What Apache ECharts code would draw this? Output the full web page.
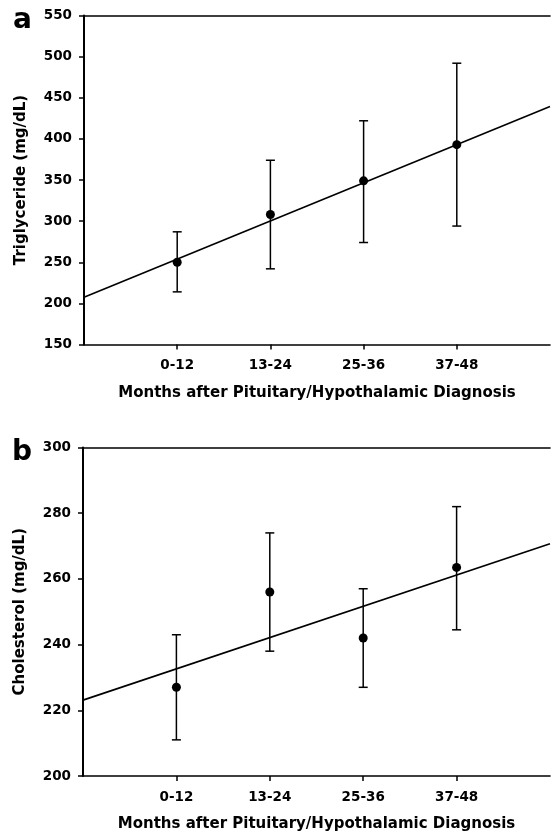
<!DOCTYPE html>
<html>
<head>
<meta charset="utf-8">
<script src="https://cdn.jsdelivr.net/npm/echarts@6/dist/echarts.min.js"></script>
<style>
html,body{margin:0;padding:0;background:#fff;}
#main{width:553px;height:839px;}
</style>
</head>
<body>
<div id="main"></div>
<script>
const categories = ['0-12', '13-24', '25-36', '37-48'];

const tgMean  = [250, 308, 349, 393];
const tgUpper = [287, 374, 422, 492];
const tgLower = [214, 242, 274, 294];
const tgFit   = [207.5, 439.4];   // regression line at left and right plot edges
const tgTicks = [150, 200, 250, 300, 350, 400, 450, 500, 550];

const chMean  = [227, 256, 242, 263.5];
const chUpper = [243, 274, 257, 282];
const chLower = [211, 238, 227, 244.5];
const chFit   = [223.1, 270.7];
const chTicks = [200, 220, 240, 260, 280, 300];

const xTitle = 'Months after Pituitary/Hypothalamic Diagnosis';
const yTitleA = 'Triglyceride (mg/dL)';
const yTitleB = 'Cholesterol (mg/dL)';

const axisCats = [''].concat(categories, ['']);
const lastIdx = axisCats.length - 1;

const tickFont = {fontFamily: 'DejaVu Sans', fontWeight: 'bold', fontSize: 13.5, color: '#000'};
const titleFont = {fontFamily: 'DejaVu Sans', fontWeight: 'bold', fontSize: 15, color: '#000'};

function xAxisBottom(g) {
  return {
    type: 'category', gridIndex: g, data: axisCats, boundaryGap: false,
    axisLine: {show: true, lineStyle: {color: '#000', width: 1.6}},
    axisTick: {show: true, length: 5, lineStyle: {color: '#000', width: 1.5},
               interval: (i) => i >= 1 && i <= categories.length},
    axisLabel: Object.assign({margin: 14, interval: 0}, tickFont),
    splitLine: {show: false},
    name: xTitle, nameLocation: 'middle', nameGap: 41, nameTextStyle: titleFont
  };
}
function xAxisTop(g) {
  return {
    type: 'category', gridIndex: g, data: axisCats, boundaryGap: false, position: 'top',
    axisLine: {show: true, lineStyle: {color: '#000', width: 1.6}},
    axisTick: {show: false}, axisLabel: {show: false}, splitLine: {show: false}
  };
}
function yAxis(g, ticks, title) {
  return {
    type: 'value', gridIndex: g, min: ticks[0], max: ticks[ticks.length - 1],
    interval: ticks[1] - ticks[0],
    axisLine: {show: true, lineStyle: {color: '#000', width: 2}},
    axisTick: {show: true, length: 5, lineStyle: {color: '#000', width: 1.5}},
    axisLabel: Object.assign({margin: 12}, tickFont),
    splitLine: {show: false},
    name: title, nameLocation: 'middle', nameGap: 55, nameRotate: 90, nameTextStyle: titleFont
  };
}
function errData(lo, hi) { return categories.map((c, i) => [i + 1, lo[i], hi[i]]); }
function meanData(m) { return categories.map((c, i) => [i + 1, m[i]]); }
function fitData(f) { return [[0, f[0]], [lastIdx, f[1]]]; }

function errRender(params, api) {
  const x = api.value(0);
  const p1 = api.coord([x, api.value(1)]);
  const p2 = api.coord([x, api.value(2)]);
  const hw = 4.5;
  const st = {stroke: '#000', lineWidth: 1.5};
  return {type: 'group', children: [
    {type: 'line', shape: {x1: p1[0], y1: p1[1], x2: p2[0], y2: p2[1]}, style: st},
    {type: 'line', shape: {x1: p1[0] - hw, y1: p1[1], x2: p1[0] + hw, y2: p1[1]}, style: st},
    {type: 'line', shape: {x1: p2[0] - hw, y1: p2[1], x2: p2[0] + hw, y2: p2[1]}, style: st}
  ]};
}

function seriesFor(g, mean, lo, hi, fit) {
  const xi = g * 2;
  return [
    {type: 'line', xAxisIndex: xi, yAxisIndex: g, data: fitData(fit), showSymbol: false,
     lineStyle: {color: '#000', width: 1.6}, z: 2, silent: true},
    {type: 'custom', xAxisIndex: xi, yAxisIndex: g, data: errData(lo, hi),
     renderItem: errRender, z: 3, silent: true},
    {type: 'scatter', xAxisIndex: xi, yAxisIndex: g, data: meanData(mean),
     symbolSize: 9, itemStyle: {color: '#000', opacity: 1}, z: 4, silent: true}
  ];
}

const chart = echarts.init(document.getElementById('main'), null, {renderer: 'canvas'});
chart.setOption({
  animation: false,
  backgroundColor: '#fff',
  grid: [
    {left: 84, top: 15.5, width: 471, height: 329},
    {left: 83, top: 447.5, width: 471, height: 328.5}
  ],
  xAxis: [xAxisBottom(0), xAxisTop(0), xAxisBottom(1), xAxisTop(1)],
  yAxis: [yAxis(0, tgTicks, yTitleA), yAxis(1, chTicks, yTitleB)],
  series: [].concat(
    seriesFor(0, tgMean, tgLower, tgUpper, tgFit),
    seriesFor(1, chMean, chLower, chUpper, chFit)
  ),
  graphic: [
    {type: 'text', left: 13, top: 7, style: {text: 'a', font: 'bold 28px "DejaVu Sans"', fill: '#000'}},
    {type: 'text', left: 12, top: 439, style: {text: 'b', font: 'bold 28px "DejaVu Sans"', fill: '#000'}}
  ]
});
</script>
</body>
</html>
